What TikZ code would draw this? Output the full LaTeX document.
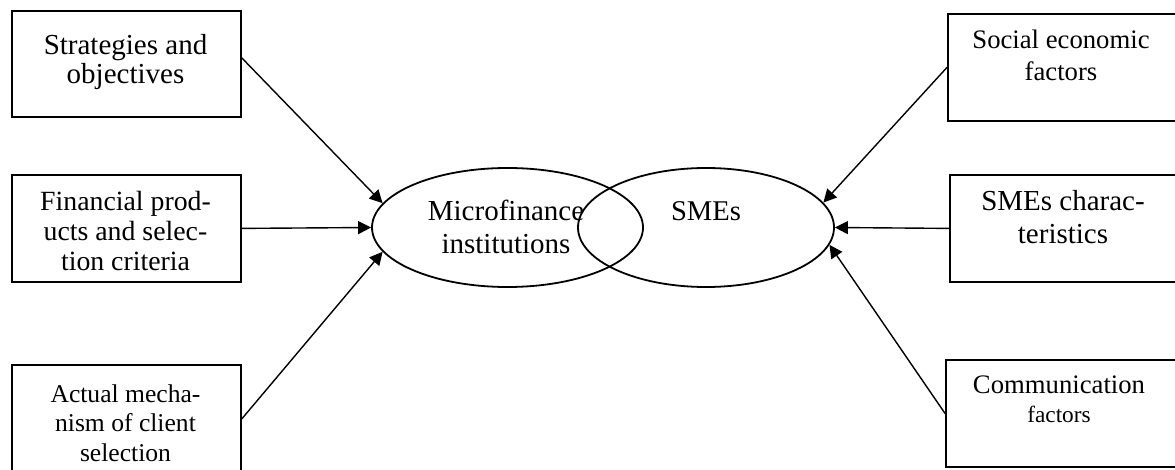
\documentclass[tikz,border=0pt]{standalone}
\usepackage{fontspec}
\setmainfont{Liberation Serif}
\usetikzlibrary{arrows.meta,shapes.geometric}
\begin{document}
\begin{tikzpicture}[x=1pt,y=-1pt,
  box/.style={draw,line width=1.8pt,rectangle,inner sep=0pt,anchor=north west},
  oval/.style={draw,line width=1.8pt,ellipse,inner sep=0pt,minimum height=119pt},
  lbl/.style={inner sep=0pt,anchor=north,align=center},
  conn/.style={line width=1.4pt,-{Triangle[length=13pt,width=13pt]}}]
\useasboundingbox (0,0) rectangle (1175,470);
% left boxes
\node[box,minimum width=229pt,minimum height=106pt] (s1) at (11,10) {};
\node[box,minimum width=229pt,minimum height=107pt] (s2) at (11,174) {};
\node[box,minimum width=229pt,minimum height=108pt] (s3) at (11,364) {};
% right boxes
\node[box,minimum width=230pt,minimum height=107pt] (r1) at (947,13) {};
\node[box,minimum width=228pt,minimum height=107pt] (r2) at (949,174) {};
\node[box,minimum width=232pt,minimum height=107pt] (r3) at (945,359) {};
% ellipses
\node[oval,minimum width=271pt] (e1) at (507.5,227.5) {};
\node[oval,minimum width=256pt] (e2) at (706,227.5) {};
% labels
\node[lbl,font=\fontsize{29}{29}\selectfont] (t1) at (125.5,33.7) {\strut Strategies and\\objectives};
\node[lbl,font=\fontsize{27.8}{30}\selectfont] (t2) at (125.5,189) {\strut Financial prod-\\ucts and selec-\\tion criteria};
\node[lbl,font=\fontsize{25.6}{29.5}\selectfont] (t3) at (125.5,381.4) {\strut Actual mecha-\\nism of client\\selection};
\node[lbl,font=\fontsize{26.7}{32}\selectfont] (t4) at (1061,25.6) {\strut Social economic\\factors};
\node[lbl,font=\fontsize{29}{33}\selectfont] (t5) at (1063,186.9) {\strut SMEs charac-\\teristics};
\node[lbl,font=\fontsize{26.7}{29}\selectfont] (t6) at (1059,372.7) {\strut Communication\\{\fontsize{23.3}{29}\selectfont factors}};
\node[lbl,font=\fontsize{29}{33}\selectfont] (t7) at (506,196.9) {\strut Microfinance\\institutions};
\node[lbl,font=\fontsize{28.6}{33}\selectfont] (t8) at (706,196.9) {\strut SMEs};
% connectors
\draw[conn] ([yshift=6pt]s1.east) -- (e1.169);
\draw[conn] (s2.east) -- (e1.180);
\draw[conn] (s3.east) -- (e1.191);
\draw[conn] (r1.west) -- (e2.12);
\draw[conn] (r2.west) -- (e2.0);
\draw[conn] (r3.west) -- (e2.-8);
\end{tikzpicture}
\end{document}
